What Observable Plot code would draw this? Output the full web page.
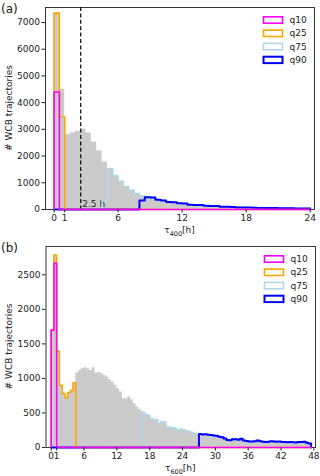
<!DOCTYPE html>
<html><head><meta charset="utf-8">
<script src="https://cdn.jsdelivr.net/npm/d3@7"></script>
<script src="https://cdn.jsdelivr.net/npm/@observablehq/plot@0.6"></script>
<style>
body{margin:0;background:#fff;}
#chart{width:320px;}
#chart svg{display:block;}
</style></head><body><div id="chart"></div>
<script>
// ---- shared ----
const binWidth = 0.5;
const seriesNames = ["q10", "q25", "q75", "q90"];
const seriesColors = ["#ff00ff", "#ffa500", "#add8e6", "#0000ff"];
const seriesWidths = [1.6, 1.6, 1.6, 2];
const yLabel = "# WCB trajectories";

// ---- panel (a): tau400 ----
const grayA = [7350, 4500, 2810, 2860, 2925, 3000, 2860, 2525, 2190, 1775,
  1525, 1275, 1060, 860, 720, 600, 510, 455, 445, 365,
  337, 285, 270, 230, 220, 180, 172, 168, 140, 135,
  130, 105, 100, 95, 78, 75, 72, 70, 58, 56,
  55, 52, 46, 45, 43, 42, 40, 35];
const q10A = [4400];
const q25A = [7350, 3470];
const q75StartA = 4.5, q75FirstA = 350;
const q90StartA = 8, q90FirstA = 337;
const xTicksA = [0, 1, 6, 12, 18, 24];
const yTicksA = [0, 1000, 2000, 3000, 4000, 5000, 6000, 7000];
const markerA = [2.5];
const markerLabelA = ["2.5 h"];

// ---- panel (b): tau600 ----
const grayB = [1700, 2787, 1395, 900, 780, 720, 794, 827, 938, 1077,
  1116, 1140, 1154, 1140, 1116, 1154, 1077, 1087, 1068, 1044,
  1020, 981, 948, 900, 851, 803, 707, 707, 731, 693,
  635, 587, 548, 515, 481, 466, 418, 404, 404, 346,
  370, 370, 298, 290, 285, 274, 250, 265, 260, 240,
  230, 215, 200, 200,
  195, 190, 192, 185, 180, 172, 170, 155, 150, 130,
  110, 105, 118, 120, 112, 125, 100, 95, 88, 86,
  90, 100, 92, 82, 80, 84, 92, 88, 85, 86,
  80, 78, 76, 80, 76, 74, 78, 80, 84, 70, 58];
const q10B = [1700, 2667];
const q25B = [1700, 2787, 1395, 900, 780, 720, 794, 827, 938];
const q75StartB = 16.5, q75FirstB = null;
const q90StartB = 27, q90FirstB = null;
const xTicksB = [0, 1, 6, 12, 18, 24, 30, 36, 42, 48];
const yTicksB = [0, 500, 1000, 1500, 2000, 2500];

// ---- helpers ----
function lowSeries(gray, vals) { return gray.map((g, i) => i < vals.length ? vals[i] : 0); }
function highSeries(gray, start, first) {
  const s = Math.round(start / binWidth);
  return gray.map((g, i) => i < s ? 0 : (i === s && first != null ? first : g));
}
function outline(values) {
  const n = values.length;
  const pts = [{x: 0, y: 0}];
  values.forEach((v, i) => pts.push({x: i * binWidth, y: v}));
  pts.push({x: n * binWidth, y: values[n - 1]});
  pts.push({x: n * binWidth, y: 0});
  return pts;
}

function panel(cfg) {
  const series = [
    lowSeries(cfg.gray, cfg.q10),
    lowSeries(cfg.gray, cfg.q25),
    highSeries(cfg.gray, cfg.q75Start, cfg.q75First),
    highSeries(cfg.gray, cfg.q90Start, cfg.q90First)
  ];
  const drawOrder = [2, 3, 1, 0];
  const marks = [
    Plot.areaY(outline(cfg.gray), {x: "x", y: "y", curve: "step-after", fill: "#cbcbcb"}),
    Plot.frame({stroke: "#222", strokeWidth: 0.9}),
  ];
  if (cfg.marker) {
    marks.push(Plot.ruleX(cfg.marker, {stroke: "#000", strokeWidth: 1.2, strokeDasharray: "4,2.4"}));
    marks.push(Plot.text(cfg.markerLabel, {x: cfg.marker[0], y: 0, text: d => d, textAnchor: "start", lineAnchor: "bottom", dx: 1.5, dy: -3, fontSize: 9, fill: "#222"}));
  }
  for (const k of drawOrder) {
    marks.push(Plot.line(outline(series[k]), {x: "x", y: "y", curve: "step-after", stroke: seriesColors[k], strokeWidth: seriesWidths[k]}));
  }
  marks.push(Plot.axisX({ticks: cfg.xTicks, tickFormat: d3.format("d"), tickSize: 3.5, tickPadding: 1.5, label: null, fontSize: 9, fill: "#222"}));
  marks.push(Plot.axisY({ticks: cfg.yTicks, tickFormat: d3.format("d"), tickSize: 3.5, tickPadding: 2, label: null, fontSize: 9, fill: "#222"}));
  const p = Plot.plot({
    width: 320, height: cfg.height,
    marginLeft: cfg.ml, marginRight: cfg.mr, marginTop: cfg.mt, marginBottom: cfg.mb,
    x: {domain: cfg.xDomain},
    y: {domain: cfg.yDomain},
    style: {fontFamily: "DejaVu Sans", fontSize: "9px", background: "white", color: "#222", overflow: "visible"},
    marks
  });
  const svg = d3.select(p);
  const fx0 = cfg.ml, fx1 = 320 - cfg.mr, fy0 = cfg.mt, fy1 = cfg.height - cfg.mb;
  // panel letter
  svg.append("text").attr("x", 1).attr("y", fy0 + 1.5).attr("dy", "0.35em").attr("text-anchor", "start")
    .attr("font-family", "DejaVu Sans").attr("font-size", 12).attr("fill", "#222").text(cfg.letter);
  // y label
  svg.append("text").attr("transform", `translate(9,${(fy0 + fy1) / 2}) rotate(-90)`)
    .attr("text-anchor", "middle").attr("dy", "0.35em")
    .attr("font-family", "DejaVu Sans").attr("font-size", 9).attr("fill", "#222").text(yLabel);
  // x label with subscript
  const xl = svg.append("text").attr("x", (fx0 + fx1) / 2).attr("y", fy1 + 21).attr("dy", "0.35em")
    .attr("text-anchor", "middle").attr("font-family", "DejaVu Sans").attr("font-size", 9).attr("fill", "#222");
  xl.append("tspan").text("τ");
  xl.append("tspan").attr("font-size", 6.5).attr("dy", "2.5").text(cfg.sub);
  xl.append("tspan").attr("dy", "-2.5").text("[h]");
  // legend
  const lg = svg.append("g");
  seriesNames.forEach((name, i) => {
    const cy = fy0 + 13 + i * 13.3;
    lg.append("rect").attr("x", fx1 - 50.5).attr("y", cy - 3.2).attr("width", 19).attr("height", 6.4)
      .attr("fill", "white").attr("stroke", seriesColors[i]).attr("stroke-width", seriesWidths[i]);
    lg.append("text").attr("x", fx1 - 24.5).attr("y", cy).attr("dy", "0.35em").attr("text-anchor", "start")
      .attr("font-family", "DejaVu Sans").attr("font-size", 9).attr("fill", "#222").text(name);
  });
  return p;
}

const chart = document.getElementById("chart");
chart.appendChild(panel({
  letter: "(a)", sub: "400", gray: grayA, q10: q10A, q25: q25A,
  q75Start: q75StartA, q75First: q75FirstA, q90Start: q90StartA, q90First: q90FirstA,
  xTicks: xTicksA, yTicks: yTicksA, marker: markerA, markerLabel: markerLabelA,
  xDomain: [-0.8, 24.4], yDomain: [0, 7560],
  height: 239, ml: 45, mr: 6, mt: 7, mb: 30
}));
chart.appendChild(panel({
  letter: "(b)", sub: "600", gray: grayB, q10: q10B, q25: q25B,
  q75Start: q75StartB, q75First: q75FirstB, q90Start: q90StartB, q90First: q90FirstB,
  xTicks: xTicksB, yTicks: yTicksB, marker: null,
  xDomain: [-0.95, 48.3], yDomain: [0, 2910],
  height: 237, ml: 45.5, mr: 5, mt: 7, mb: 29
}));
</script></body></html>
